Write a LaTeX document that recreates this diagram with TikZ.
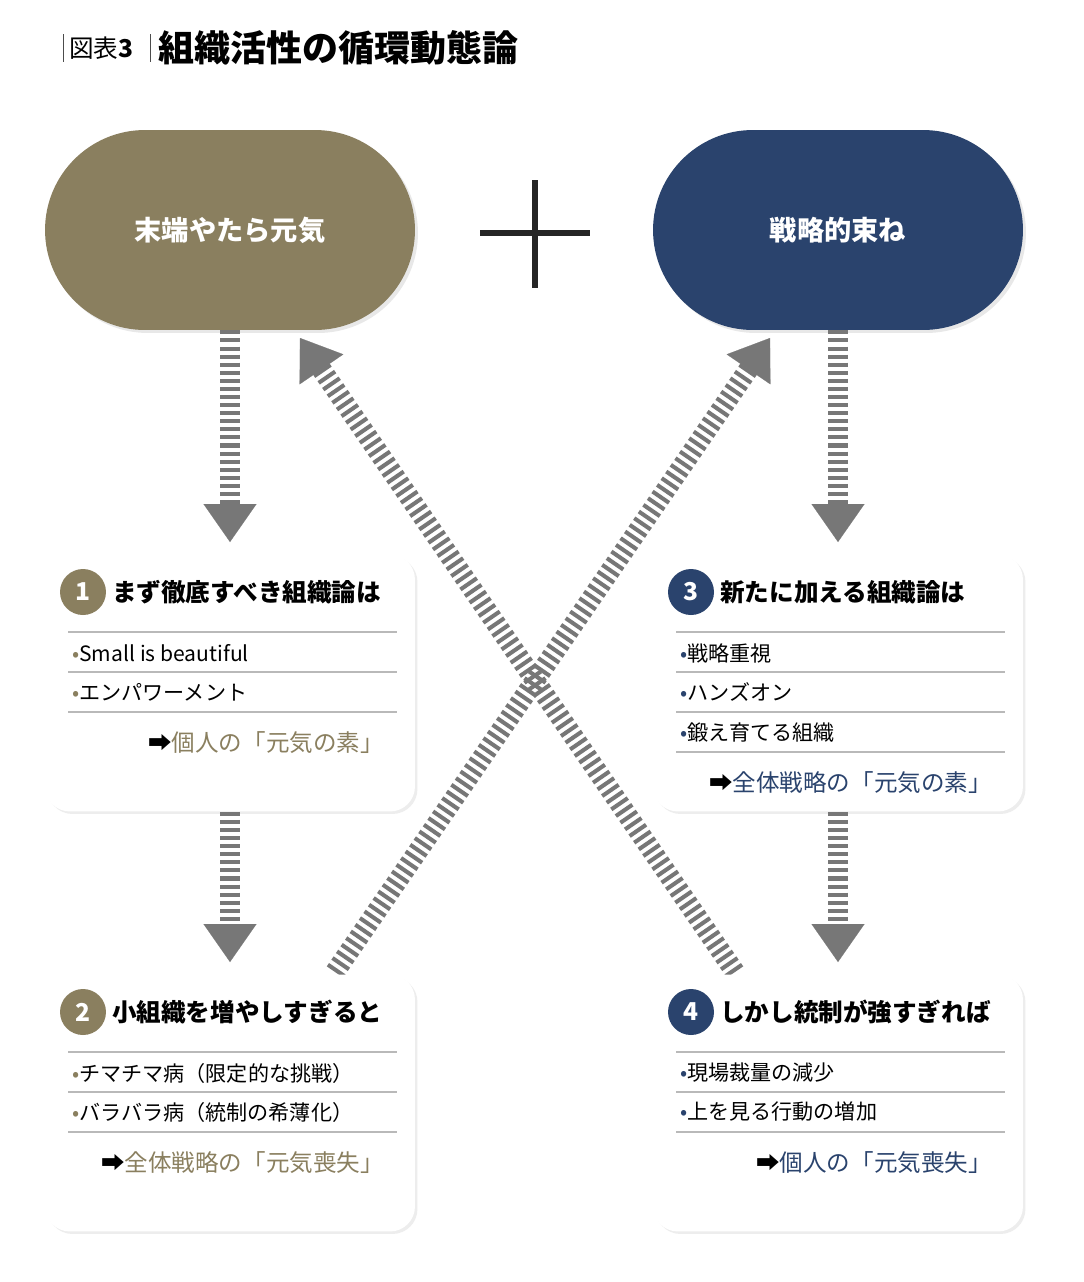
\documentclass[tikz,border=0pt]{standalone}
\usepackage{fontspec}
\setmainfont{Noto Sans CJK JP}
\usetikzlibrary{arrows.meta,calc,shadows}
\definecolor{olivec}{HTML}{8A7F5F}
\definecolor{navyc}{HTML}{2A436D}
\definecolor{arrowgray}{HTML}{777777}
\tikzset{
  pill/.style={rectangle, rounded corners=2cm, minimum width=7.4cm, minimum height=4cm,
    text=white, font=\bfseries\fontsize{15.5}{18}\selectfont,
    drop shadow={opacity=0.18, shadow xshift=0.06cm, shadow yshift=-0.06cm}},
  card/.style={rectangle, rounded corners=0.5cm, fill=white, minimum width=7.4cm, minimum height=5.14cm,
    drop shadow={opacity=0.14, shadow xshift=0.05cm, shadow yshift=-0.05cm}},
  badge/.style={circle, minimum size=0.92cm, inner sep=0pt, text=white, font=\bfseries\fontsize{14}{16}\selectfont},
  head/.style={anchor=west, font=\bfseries\fontsize{14}{16}\selectfont},
  item/.style={anchor=west, font=\fontsize{12}{14}\selectfont},
  result/.style={anchor=east, font=\fontsize{13.4}{16}\selectfont},
  rule/.style={gray!55, line width=0.9pt},
  stripe/.style={arrowgray, line width=0.4cm, dash pattern=on 2.3pt off 2.3pt},
  tiphead/.style={arrowgray, line width=0.1pt, -{Triangle[width=1.06cm,length=0.76cm]}}
}
\newcommand{\striparrow}[2]{%
  \draw[stripe] (#1) -- ($(#2)!0.74cm!(#1)$);
  \draw[tiphead] ($(#2)!0.76cm!(#1)$) -- (#2);}
\begin{document}
\begin{tikzpicture}[x=0.02cm, y=-0.02cm]
  \useasboundingbox[fill=white] (0,0) rectangle (1084,1282);

  % Title
  \draw[black!70, line width=0.5pt] (63,34) -- (63,62) (150,34) -- (150,62);
  \node[anchor=west, inner sep=0pt, font=\fontsize{14}{16}\selectfont] (tnum) at (69,48) {図表\textbf{3}};
  \node[anchor=west, inner sep=0pt, font=\bfseries\fontsize{20.5}{24}\selectfont] (title) at (158,48) {組織活性の循環動態論};

  % Diagonal arrows (under the cards)
  \coordinate (sA) at (335,972);
  \coordinate (tA) at (770,338);
  \coordinate (sB) at (735,972);
  \coordinate (tB) at (300,338);
  \striparrow{sA}{tA}
  \striparrow{sB}{tB}

  % Pills
  \node[pill, fill=olivec] (p1) at (230,230) {末端やたら元気};
  \node[pill, fill=navyc] (p2) at (838,230) {戦略的束ね};
  \draw[black!85, line width=3.4pt] (480,233) -- (590,233) (535,180) -- (535,288);

  % Cards
  \node[card] (b1) at (230,683) {};
  \node[card] (b2) at (230,1103) {};
  \node[card] (b3) at (838,683) {};
  \node[card] (b4) at (838,1103) {};

  % Vertical arrows
  \coordinate (v1) at (230,542);
  \coordinate (v2) at (230,962);
  \coordinate (v3) at (838,542);
  \coordinate (v4) at (838,962);
  \striparrow{p1.south}{v1}
  \striparrow{b1.south}{v2}
  \striparrow{p2.south}{v3}
  \striparrow{b3.south}{v4}

  % Card 1
  \node[badge, fill=olivec] (n1) at (83,592) {1};
  \node[head] at (106,592) {まず徹底すべき組織論は};
  \draw[rule] (68,632) -- (397,632) (68,672) -- (397,672) (68,712) -- (397,712);
  \node[item] at (66,653) {\textcolor{olivec}{•}Small is beautiful};
  \node[item] at (66,692) {\textcolor{olivec}{•}エンパワーメント};
  \node[result, text=olivec] at (390,743) {\textcolor{black}{➡}個人の「元気の素」};

  % Card 2
  \node[badge, fill=olivec] (n2) at (83,1012) {2};
  \node[head] at (106,1012) {小組織を増やしすぎると};
  \draw[rule] (68,1052) -- (397,1052) (68,1092) -- (397,1092) (68,1132) -- (397,1132);
  \node[item] at (66,1073) {\textcolor{olivec}{•}チマチマ病（限定的な挑戦）};
  \node[item] at (66,1112) {\textcolor{olivec}{•}バラバラ病（統制の希薄化）};
  \node[result, text=olivec] at (390,1163) {\textcolor{black}{➡}全体戦略の「元気喪失」};

  % Card 3
  \node[badge, fill=navyc] (n3) at (691,592) {3};
  \node[head] at (714,592) {新たに加える組織論は};
  \draw[rule] (676,632) -- (1005,632) (676,672) -- (1005,672) (676,712) -- (1005,712) (676,752) -- (1005,752);
  \node[item] at (674,653) {\textcolor{navyc}{•}戦略重視};
  \node[item] at (674,692) {\textcolor{navyc}{•}ハンズオン};
  \node[item] at (674,733) {\textcolor{navyc}{•}鍛え育てる組織};
  \node[result, text=navyc] at (998,783) {\textcolor{black}{➡}全体戦略の「元気の素」};

  % Card 4
  \node[badge, fill=navyc] (n4) at (691,1012) {4};
  \node[head] at (714,1012) {しかし統制が強すぎれば};
  \draw[rule] (676,1052) -- (1005,1052) (676,1092) -- (1005,1092) (676,1132) -- (1005,1132);
  \node[item] at (674,1073) {\textcolor{navyc}{•}現場裁量の減少};
  \node[item] at (674,1112) {\textcolor{navyc}{•}上を見る行動の増加};
  \node[result, text=navyc] at (998,1163) {\textcolor{black}{➡}個人の「元気喪失」};
\end{tikzpicture}
\end{document}
